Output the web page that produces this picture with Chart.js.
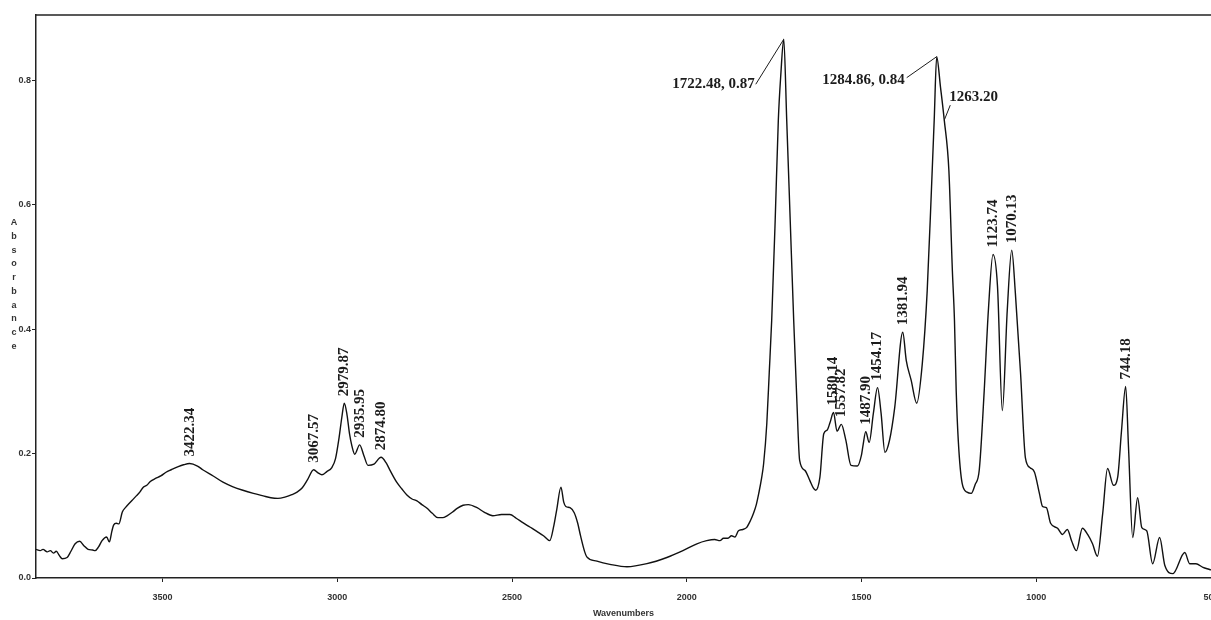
<!DOCTYPE html>
<html>
<head>
<meta charset="utf-8">
<script src="https://cdn.jsdelivr.net/npm/chart.js@4.4.0/dist/chart.umd.min.js"></script>
<style>
  html, body { margin: 0; padding: 0; background: #fff; overflow: hidden; }
</style>
</head>
<body>
<canvas id="irChart" width="1231" height="620"></canvas>
<script>
// spectrum, left to right (high -> low wavenumber)
const wavenumbers = [
  3862, 3850, 3842, 3830, 3821, 3812, 3804, 3795, 3787, 3773, 3762, 3750, 3737, 3725, 3713, 3700,
  3693, 3683, 3673, 3660, 3652, 3645, 3640, 3632, 3625, 3615, 3605, 3595, 3585, 3575, 3565, 3555,
  3545, 3535, 3520, 3505, 3490, 3475, 3455, 3440, 3422.34, 3400, 3385, 3355, 3327, 3300, 3270, 3240,
  3212, 3190, 3170, 3150, 3130, 3115, 3100, 3085, 3067.57, 3055, 3044, 3030, 3015, 3005, 2995, 2987,
  2979.87, 2972, 2965, 2958, 2950, 2935.95, 2924, 2912, 2895, 2874.80, 2860, 2849, 2830, 2815, 2800, 2786,
  2772, 2758, 2743, 2728, 2712, 2698, 2686, 2670, 2657, 2640, 2625, 2600, 2580, 2555, 2530, 2506,
  2488, 2469, 2449, 2429, 2410, 2392, 2380, 2372, 2360, 2352, 2346, 2334, 2322, 2312, 2304, 2292,
  2286, 2257, 2220, 2171, 2114, 2057, 2011, 1971, 1943, 1920, 1905, 1895, 1882, 1872, 1862, 1852,
  1840, 1829, 1818, 1809, 1801, 1794, 1786, 1780, 1771, 1764, 1757, 1747, 1738, 1731, 1722.48, 1714,
  1704, 1694, 1685, 1677, 1662, 1648, 1638, 1631, 1619, 1608, 1598, 1590, 1580.14, 1570, 1557.82, 1545,
  1530, 1512, 1500, 1496, 1487.90, 1478, 1466, 1454.17, 1444, 1433, 1420, 1405, 1381.94, 1372, 1358, 1342,
  1326, 1312, 1300, 1292, 1284.86, 1274, 1263.20, 1250, 1240, 1234, 1229, 1223, 1212, 1198, 1186, 1175,
  1163, 1149, 1137, 1123.74, 1111, 1097, 1083, 1070.13, 1060, 1045, 1031, 1017, 1005, 991, 982, 971,
  959, 939, 925, 911, 899, 885, 868, 853, 839, 825, 810, 796, 779, 767, 756, 744.18,
  736, 724, 710, 698, 684, 667, 647, 632, 609, 575, 561, 543, 523, 506, 500
];
const absorbance = [
  0.046, 0.044, 0.046, 0.042, 0.044, 0.040, 0.043, 0.036, 0.031, 0.033, 0.043, 0.055, 0.059, 0.052, 0.046, 0.045,
  0.044, 0.050, 0.060, 0.066, 0.058, 0.075, 0.085, 0.088, 0.087, 0.106, 0.114, 0.120, 0.126, 0.132, 0.138, 0.146,
  0.149, 0.155, 0.160, 0.164, 0.170, 0.174, 0.179, 0.182, 0.184, 0.180, 0.174, 0.164, 0.154, 0.147, 0.141, 0.136,
  0.132, 0.129, 0.128, 0.130, 0.134, 0.138, 0.145, 0.158, 0.174, 0.169, 0.166, 0.171, 0.178, 0.192, 0.225, 0.258,
  0.281, 0.262, 0.232, 0.212, 0.199, 0.214, 0.197, 0.181, 0.183, 0.194, 0.185, 0.173, 0.154, 0.143, 0.133, 0.127,
  0.124, 0.118, 0.112, 0.104, 0.097, 0.097, 0.100, 0.106, 0.112, 0.117, 0.118, 0.113, 0.106, 0.100, 0.102, 0.102,
  0.096, 0.089, 0.082, 0.075, 0.068, 0.060, 0.085, 0.110, 0.146, 0.122, 0.115, 0.113, 0.105, 0.088, 0.068, 0.042,
  0.034, 0.027, 0.022, 0.018, 0.023, 0.033, 0.044, 0.055, 0.060, 0.062, 0.060, 0.064, 0.064, 0.068, 0.066, 0.076,
  0.078, 0.081, 0.092, 0.104, 0.118, 0.136, 0.160, 0.184, 0.248, 0.330, 0.414, 0.575, 0.736, 0.808, 0.866, 0.736,
  0.575, 0.414, 0.285, 0.189, 0.173, 0.157, 0.145, 0.141, 0.162, 0.232, 0.238, 0.250, 0.266, 0.236, 0.247, 0.222,
  0.181, 0.180, 0.198, 0.212, 0.235, 0.218, 0.265, 0.306, 0.265, 0.202, 0.221, 0.274, 0.395, 0.350, 0.318, 0.281,
  0.345, 0.462, 0.623, 0.736, 0.838, 0.789, 0.736, 0.655, 0.494, 0.414, 0.300, 0.220, 0.152, 0.138, 0.136, 0.150,
  0.174, 0.300, 0.430, 0.520, 0.470, 0.269, 0.430, 0.527, 0.460, 0.330, 0.193, 0.177, 0.170, 0.136, 0.115, 0.113,
  0.088, 0.080, 0.070, 0.078, 0.060, 0.044, 0.080, 0.070, 0.055, 0.035, 0.103, 0.176, 0.149, 0.162, 0.237, 0.308,
  0.210, 0.065, 0.129, 0.081, 0.076, 0.023, 0.065, 0.020, 0.007, 0.041, 0.023, 0.023, 0.017, 0.014, 0.013
];

const xTicks = [3500, 3000, 2500, 2000, 1500, 1000, 500];
const yTicks = [0, 0.2, 0.4, 0.6, 0.8];

// vertical peak labels and the three horizontal call-outs
const peakLabels = ["3422.34", "3067.57", "2979.87", "2935.95", "2874.80", "1580.14", "1557.82",
  "1487.90", "1454.17", "1381.94", "1123.74", "1070.13", "744.18"];
const calloutLabels = ["1722.48, 0.87", "1284.86, 0.84", "1263.20"];

const points = wavenumbers.map((w, i) => ({ x: w, y: absorbance[i] }));

function nearestIndex(target) {
  let best = 0;
  wavenumbers.forEach((w, i) => {
    if (Math.abs(w - target) < Math.abs(wavenumbers[best] - target)) best = i;
  });
  return best;
}

// text offsets (px) of each call-out from its point, and where the leader starts
const calloutStyle = [
  { tx: -29, ty: 49, align: "right", lx: -28, ly: 45 },
  { tx: -32, ty: 27, align: "right", lx: -30, ly: 21 },
  { tx: 5, ty: -19, align: "left", lx: 6, ly: -15 }
];

const annotations = {
  id: "annotations",
  afterDatasetsDraw(chart) {
    const { ctx, chartArea, scales: { x, y } } = chart;
    ctx.save();
    ctx.fillStyle = "#1c1c1c";
    ctx.strokeStyle = "#1c1c1c";
    ctx.lineWidth = 1;
    ctx.font = "bold 15px 'Liberation Serif', 'Times New Roman', serif";

    // rotated labels above peaks
    ctx.textAlign = "left";
    ctx.textBaseline = "middle";
    peakLabels.forEach((label) => {
      const i = nearestIndex(parseFloat(label));
      const px = x.getPixelForValue(wavenumbers[i]);
      const py = y.getPixelForValue(absorbance[i]);
      ctx.save();
      ctx.translate(px, py - 7);
      ctx.rotate(-Math.PI / 2);
      ctx.fillText(label, 0, 0);
      ctx.restore();
    });

    // horizontal call-outs with leader lines
    ctx.textBaseline = "alphabetic";
    calloutLabels.forEach((label, k) => {
      const s = calloutStyle[k];
      const i = nearestIndex(parseFloat(label));
      const px = x.getPixelForValue(wavenumbers[i]);
      const py = y.getPixelForValue(absorbance[i]);
      ctx.textAlign = s.align;
      ctx.fillText(label, px + s.tx, py + s.ty);
      ctx.beginPath();
      ctx.moveTo(px + s.lx, py + s.ly);
      ctx.lineTo(px, py);
      ctx.stroke();
    });

    // stacked y-axis title
    ctx.font = "bold 9px 'Liberation Sans', Arial, sans-serif";
    ctx.fillStyle = "#333";
    ctx.textAlign = "center";
    ctx.textBaseline = "middle";
    const letters = "Absorbance".split("");
    const step = 13.7;
    const startY = chartArea.top + (chartArea.height - (letters.length - 1) * step) / 2 - 12;
    letters.forEach((ch, k) => ctx.fillText(ch, chartArea.left - 22, startY + k * step));

    // top frame line
    ctx.strokeStyle = "#222";
    ctx.lineWidth = 1.5;
    ctx.beginPath();
    ctx.moveTo(chartArea.left, chartArea.top);
    ctx.lineTo(chartArea.right, chartArea.top);
    ctx.stroke();
    ctx.restore();
  }
};

const tickFont = { family: "'Liberation Sans', Arial, sans-serif", size: 9, weight: "bold" };

new Chart(document.getElementById("irChart"), {
  type: "line",
  data: {
    datasets: [{
      data: points,
      borderColor: "#111",
      borderWidth: 1.4,
      pointRadius: 0,
      fill: false,
      cubicInterpolationMode: "monotone"
    }]
  },
  options: {
    responsive: false,
    animation: false,
    layout: { padding: { top: 15, right: 20, left: 0, bottom: 0 } },
    plugins: { legend: { display: false }, tooltip: { enabled: false } },
    scales: {
      x: {
        type: "linear",
        reverse: true,
        min: 500,
        max: 3862,
        afterBuildTicks: (s) => { s.ticks = xTicks.map((v) => ({ value: v })); },
        afterFit: (s) => { s.height = 42; },
        grid: { display: true, drawOnChartArea: false, tickLength: 4, color: "#222" },
        border: { display: true, color: "#222", width: 1.5 },
        ticks: { padding: 10, font: tickFont, color: "#333", maxRotation: 0, autoSkip: false, callback: (v) => String(v) },
        title: { display: true, text: "Wavenumbers", font: tickFont, color: "#333", padding: { top: 0, bottom: 1 } }
      },
      y: {
        min: 0,
        max: 0.905,
        afterBuildTicks: (s) => { s.ticks = yTicks.map((v) => ({ value: v })); },
        afterFit: (s) => { s.width = 36; },
        grid: { display: true, drawOnChartArea: false, tickLength: 4, color: "#222" },
        border: { display: true, color: "#222", width: 1.5 },
        ticks: { padding: 1, font: tickFont, color: "#333", callback: (v) => v.toFixed(1) }
      }
    }
  },
  plugins: [annotations]
});
</script>
</body>
</html>
